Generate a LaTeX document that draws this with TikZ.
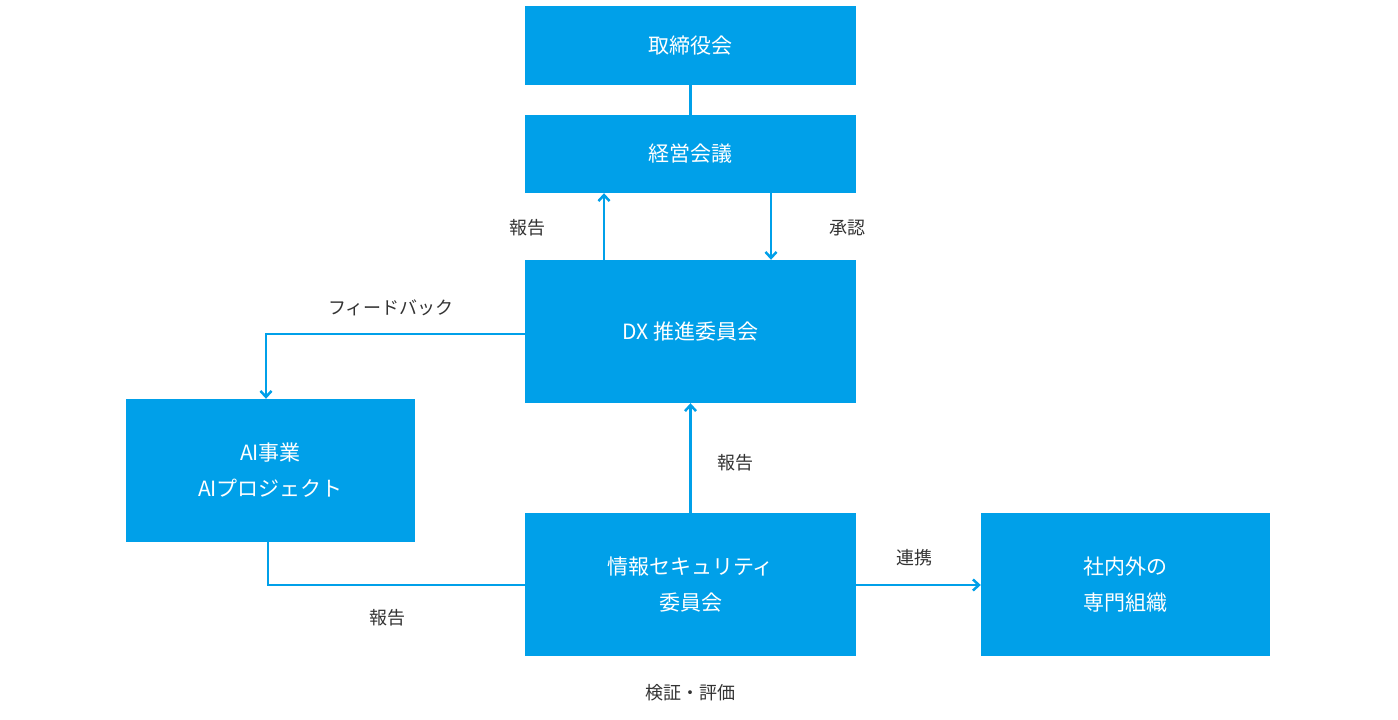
\documentclass[tikz,border=0pt]{standalone}
\usepackage{fontspec}
\setmainfont{Noto Sans CJK JP}
\usetikzlibrary{arrows.meta}
\definecolor{blu}{HTML}{00A0E9}
\definecolor{txt}{HTML}{333333}
\begin{document}
\begin{tikzpicture}[x=1pt,y=-1pt,
 box/.style={fill=blu,draw=none,text=white,font=\fontsize{21}{36}\selectfont,align=center,inner sep=0pt},
 lab/.style={text=txt,font=\fontsize{18}{22}\selectfont,inner sep=0pt},
 ln/.style={draw=blu,line width=2.5pt},
 ar/.style={ln,-{Straight Barb[length=6pt,width=11pt,line width=2.5pt]}}]
\useasboundingbox (0,0) rectangle (1398,720);
\node[box,minimum width=331pt,minimum height=79pt] (a) at (690.5,45.5) {取締役会};
\node[box,minimum width=331pt,minimum height=78pt] (b) at (690.5,154) {経営会議};
\node[box,minimum width=331pt,minimum height=143pt] (c) at (690.5,331.5) {DX 推進委員会};
\node[box,minimum width=289pt,minimum height=143pt] (d) at (270.5,470.5) {AI事業\\AIプロジェクト};
\node[box,minimum width=331pt,minimum height=143pt] (e) at (690.5,584.5) {情報セキュリティ\\委員会};
\node[box,minimum width=289pt,minimum height=143pt] (f) at (1125.5,584.5) {社内外の\\専門組織};
\draw[ln] (a.south) -- (b.north);
\draw[ar] (c.north -| 604,0) -- (b.south -| 604,0);
\draw[ar] (b.south -| 771,0) -- (c.north -| 771,0);
\draw[ar] (c.west |- 0,334) -- (266,334) -- (d.north -| 266,0);
\draw[ar] (e.north) -- (c.south);
\draw[ln] (d.south -| 268,0) -- (268,585) -- (e.west |- 0,585);
\draw[ar] (e.east |- 0,585) -- (f.west |- 0,585);
\node[lab] (l1) at (527,228) {報告};
\node[lab] (l2) at (847,228) {承認};
\node[lab] (l3) at (391,308) {フィードバック};
\node[lab] (l4) at (735,463) {報告};
\node[lab] (l5) at (387,618) {報告};
\node[lab] (l6) at (914,558) {連携};
\node[lab] (l7) at (690,693) {検証・評価};
\end{tikzpicture}
\end{document}
